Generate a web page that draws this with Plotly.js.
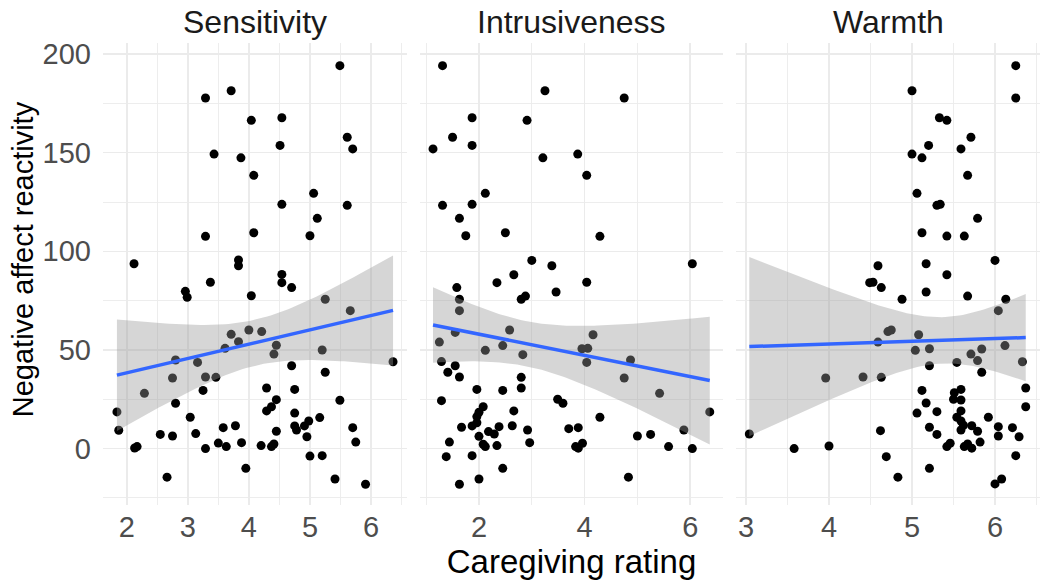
<!DOCTYPE html>
<html>
<head>
<meta charset="utf-8">
<script src="https://cdn.plot.ly/plotly-3.0.1.min.js"></script>
<style>html,body{margin:0;padding:0;background:#fff;}#chart{width:1050px;height:585px;}</style>
</head>
<body>
<div id="chart"></div>
<script>
// ---- Data ----
const panelTitles = ["Sensitivity", "Intrusiveness", "Warmth"];
const xAxisTitle = "Caregiving rating";
const yAxisTitle = "Negative affect reactivity";

const sensX = [5.49,3.71,3.29,4.04,4.54,5.61,5.70,4.51,3.43,3.87,4.08,5.06,4.54,5.61,5.12,3.29,4.08,5.00,2.12,3.83,3.83,4.54,4.54,4.70,3.37,2.96,2.99,4.04,
  5.25,5.66,3.71,4.00,4.21,3.83,3.61,4.45,4.41,5.20,2.80,3.16,6.36,4.70,2.75,3.29,3.46,5.25,2.29,3.25,4.29,4.75,2.80,4.45,4.37,4.29,5.49,1.84,3.04,4.75,5.16,4.98,4.91,4.75,4.78,1.87,3.58,3.78,4.45,2.55,2.75,3.13,5.70,4.95,5.75,2.13,2.17,3.29,3.50,3.63,3.88,4.20,4.37,4.41,5.00,5.20,3.95,2.66,5.41,5.91];
const sensY = [194.1,181.4,177.7,166.4,167.7,157.8,151.9,153.7,149.3,147.4,138.5,129.4,123.8,123.3,116.7,107.6,109.4,107.9,93.7,95.6,92.7,88.3,84.1,81.6,84.3,79.7,76.7,77.5,
  75.7,69.9,57.9,60.1,59.3,54.2,50.8,52.4,47.9,50.0,44.9,43.7,44.0,42.0,35.8,36.3,36.1,38.7,28.0,29.5,30.7,30.0,23.0,24.8,21.2,19.1,24.5,18.6,15.9,18.0,15.7,14.0,11.5,11.5,9.4,9.3,10.6,11.6,8.8,7.2,6.4,7.6,10.6,6.0,3.3,0.3,1.0,0.0,2.8,1.0,3.0,1.5,1.0,2.3,-3.8,-3.6,-10.0,-14.5,-15.4,-18.1];

const intrX = [1.31,3.25,4.75,1.87,2.91,1.50,1.13,1.87,3.21,3.87,4.04,2.12,1.31,1.87,1.63,1.75,2.50,4.29,3.00,3.38,6.04,2.66,2.34,4.04,1.58,3.46,
  2.80,2.88,1.63,1.63,1.25,1.55,2.58,2.45,2.12,2.83,4.16,3.95,4.06,4.04,4.87,4.75,5.42,6.37,1.29,1.55,1.41,1.63,2.80,1.96,2.45,2.80,1.29,3.49,3.59,2.08,2.00,1.96,2.66,4.29,1.67,1.87,1.96,2.18,2.29,2.38,2.63,2.92,2.00,2.08,2.12,2.34,2.96,1.44,3.70,3.88,3.83,3.88,3.96,5.00,5.25,5.88,5.59,6.04,1.38,1.87,2.45,2.00,1.63,4.83];
const intrY = [194.1,181.4,177.7,167.7,166.4,157.8,151.9,153.7,147.4,149.3,138.5,129.4,123.3,123.8,116.7,107.9,109.4,107.6,95.4,92.7,93.7,88.1,84.1,84.3,81.6,79.4,
  75.7,77.3,75.7,69.9,54.0,58.9,60.1,52.2,49.8,47.6,57.7,50.6,50.8,43.7,44.9,35.8,28.0,18.6,44.1,42.0,38.7,36.3,36.1,30.0,29.5,30.7,24.3,25.0,23.0,21.2,18.4,16.2,19.1,15.9,10.8,11.5,13.1,8.6,7.4,11.1,11.6,9.4,6.2,2.2,1.0,1.5,3.0,3.3,10.1,10.6,1.0,0.2,2.7,6.4,7.2,9.4,1.0,0.0,-4.1,-3.6,-10.0,-15.4,-18.1,-14.5];

const warmX = [6.25,6.25,5.00,5.33,5.42,5.71,5.20,5.59,5.00,5.12,5.67,5.06,5.30,5.34,5.79,5.12,5.42,5.63,6.00,4.59,5.17,5.42,4.49,4.53,4.63,5.17,
  4.88,5.67,6.13,6.04,4.71,4.75,5.08,4.59,5.04,5.21,5.71,5.79,5.84,6.12,5.54,5.21,6.33,5.84,3.96,4.41,4.63,5.12,5.51,5.59,6.37,5.50,5.59,5.17,6.37,5.06,5.30,5.59,5.54,5.92,5.59,5.62,5.72,5.21,5.59,5.79,6.04,6.21,3.04,4.62,5.30,6.04,6.29,5.82,3.58,4.00,5.42,5.46,5.63,5.67,5.72,4.69,6.25,5.21,4.83,6.00,6.08];
const warmY = [194.1,177.7,181.4,167.7,166.4,157.8,153.7,151.9,149.3,147.4,138.5,129.4,123.3,123.8,116.7,109.4,107.7,107.7,95.4,92.7,93.7,88.1,84.1,84.3,81.6,79.4,
  75.7,77.3,75.7,69.9,59.3,60.1,57.7,54.0,49.8,50.6,47.9,44.6,50.5,52.2,43.7,42.0,44.0,38.7,35.8,36.3,36.1,29.5,28.3,30.0,30.7,25.0,24.6,23.1,21.2,18.0,18.7,19.1,15.9,15.9,14.0,11.8,11.6,10.8,9.4,8.8,11.1,10.6,7.4,9.1,7.2,6.4,6.0,3.3,0.0,1.3,1.0,2.7,1.0,2.3,0.2,-4.1,-3.6,-10.0,-14.5,-17.9,-15.4];

const panelX = [sensX, intrX, warmX];
const panelY = [sensY, intrY, warmY];

// ---- linear fit with 95% confidence band (like geom_smooth(method = "lm")) ----
function tQuant(df) {
  const z = 1.959964;
  return z + (z*z*z + z) / (4*df) + (5*Math.pow(z,5) + 16*z*z*z + 3*z) / (96*df*df);
}
function lmFit(x, y) {
  const n = x.length;
  const mx = x.reduce((a,b)=>a+b,0)/n, my = y.reduce((a,b)=>a+b,0)/n;
  let sxx = 0, sxy = 0;
  for (let i=0;i<n;i++){ sxx += (x[i]-mx)**2; sxy += (x[i]-mx)*(y[i]-my); }
  const b = sxy/sxx, a = my - b*mx;
  let ss = 0;
  for (let i=0;i<n;i++){ ss += (y[i]-a-b*x[i])**2; }
  const s2 = ss/(n-2), t = tQuant(n-2);
  const lo = Math.min(...x), hi = Math.max(...x);
  const xs = [], fit = [], up = [], dn = [];
  for (let k=0;k<80;k++){
    const xv = lo + (hi-lo)*k/79;
    const yv = a + b*xv;
    const se = Math.sqrt(s2*(1/n + (xv-mx)**2/sxx));
    xs.push(xv); fit.push(yv); up.push(yv + t*se); dn.push(yv - t*se);
  }
  return {xs, fit, up, dn};
}

const traces = [];
const axSuffix = ["", "2", "3"];
for (let p=0;p<3;p++){
  traces.push({
    type:"scatter", mode:"markers", x:panelX[p], y:panelY[p],
    xaxis:"x"+axSuffix[p], yaxis:"y"+axSuffix[p],
    marker:{color:"#000000", size:9, line:{width:0}},
    hoverinfo:"skip", showlegend:false
  });
}
for (let p=0;p<3;p++){
  const f = lmFit(panelX[p], panelY[p]);
  traces.push({
    type:"scatter", mode:"lines",
    x: f.xs.concat(f.xs.slice().reverse()),
    y: f.up.concat(f.dn.slice().reverse()),
    fill:"toself", fillcolor:"rgba(153,153,153,0.4)", line:{width:0, color:"rgba(0,0,0,0)"},
    xaxis:"x"+axSuffix[p], yaxis:"y"+axSuffix[p], hoverinfo:"skip", showlegend:false
  });
  traces.push({
    type:"scatter", mode:"lines", x:f.xs, y:f.fit,
    line:{color:"#3366FF", width:3.5},
    xaxis:"x"+axSuffix[p], yaxis:"y"+axSuffix[p], hoverinfo:"skip", showlegend:false
  });
}

const grid = "#ebebeb";
const tickFont = {family:"Liberation Sans, Arial, sans-serif", size:29, color:"#4d4d4d"};
function xAx(domain, range, major, minor, anchor) {
  return {
    domain, range, tickmode:"array", tickvals:major, anchor,
    showgrid:true, gridcolor:grid, gridwidth:1.6,
    minor:{tickmode:"array", tickvals:minor, showgrid:true, gridcolor:grid, gridwidth:0.9, ticks:""},
    zeroline:false, showline:false, ticks:"", tickfont:tickFont, ticklabelstandoff:2, fixedrange:true
  };
}
function yAx(anchor, labels) {
  return {
    range:[-28.6, 205.6], tickmode:"array", tickvals:[0,50,100,150,200], anchor,
    showgrid:true, gridcolor:grid, gridwidth:1.6,
    minor:{tickmode:"array", tickvals:[-25,25,75,125,175], showgrid:true, gridcolor:grid, gridwidth:0.9, ticks:""},
    zeroline:false, showline:false, ticks:"", tickfont:tickFont, showticklabels:labels, ticklabelstandoff:11, fixedrange:true
  };
}

const doms = [[0,0.3244],[0.3383,0.6617],[0.6756,1]];
const annotations = panelTitles.map((t, i) => ({
  text:t, xref:"paper", yref:"paper", x:(doms[i][0]+doms[i][1])/2, y:1,
  xanchor:"center", yanchor:"middle", yshift:21, showarrow:false,
  font:{size:32, color:"#1a1a1a"}
}));
// y-axis title (ggplot centres it on the panel + strip area)
annotations.push({
  text:yAxisTitle, xref:"paper", yref:"paper", x:0, y:0.532,
  xanchor:"center", yanchor:"middle", xshift:-80, textangle:-90, showarrow:false,
  font:{size:29, color:"#000000"}
});

const layout = {
  width:1050, height:585,
  paper_bgcolor:"#ffffff", plot_bgcolor:"rgba(0,0,0,0)",
  margin:{l:103, r:10, t:43, b:80},
  font:{family:"Liberation Sans, Arial, sans-serif"},
  showlegend:false,
  xaxis: xAx(doms[0], [1.612, 6.588], [2,3,4,5,6], [2.5,3.5,4.5,5.5,6.5], "y"),
  xaxis2: Object.assign(xAx(doms[1], [0.883, 6.621], [2,4,6], [1,3,5], "y2"),
    {title:{text:xAxisTitle, font:{size:33, color:"#000000"}, standoff:4}}),
  xaxis3: xAx(doms[2], [2.880, 6.542], [3,4,5,6], [3.5,4.5,5.5,6.5], "y3"),
  yaxis: yAx("x", true),
  yaxis2: yAx("x2", false),
  yaxis3: yAx("x3", false),
  annotations
};

Plotly.newPlot("chart", traces, layout, {staticPlot:true, displayModeBar:false});
</script>
</body>
</html>
